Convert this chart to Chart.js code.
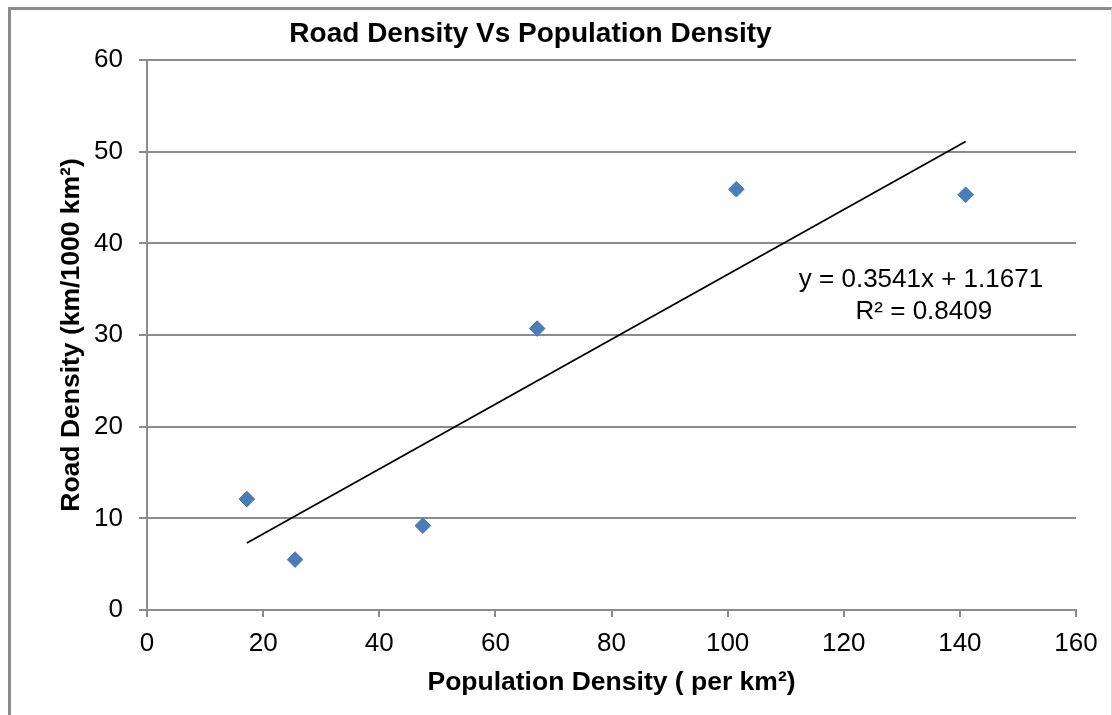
<!DOCTYPE html>
<html>
<head>
<meta charset="utf-8">
<title>Road Density Vs Population Density</title>
<script src="https://cdn.jsdelivr.net/npm/chart.js@4.4.1/dist/chart.umd.min.js"></script>
<style>
    body { margin: 0; background: #fff; }
    #wrap { position: relative; width: 1112px; height: 715px; overflow: hidden; background: #fff; }
    #frame {
        position: absolute; left: 8px; top: 7px; width: 1100px; height: 720px;
        border-left: 3px solid #8c8c8c; border-top: 3px solid #8c8c8c; border-right: 1px solid #dcdcdc;
        pointer-events: none;
    }
    canvas { position: absolute; left: 0; top: 0; }
</style>
</head>
<body>
<div id="wrap">
    <canvas id="chart" width="1112" height="715"></canvas>
    <div id="frame"></div>
</div>
<script>
// Data
const popDensity = [17.2, 25.5, 47.5, 67.2, 101.5, 141.0];
const roadDensity = [12.1, 5.5, 9.2, 30.7, 45.9, 45.3];

// Linear trendline ends as drawn
const trendX = [17.2, 141.0];
const trendY = [7.3, 51.1];
const equationText = ['y = 0.3541x + 1.1671', 'R² = 0.8409'];

const xTicks = [0, 20, 40, 60, 80, 100, 120, 140, 160];
const yTicks = [0, 10, 20, 30, 40, 50, 60];

const FONT = '"Liberation Sans", Arial, Helvetica, sans-serif';
const gridColor = '#8c8c8c';

Chart.defaults.font.family = FONT;
Chart.defaults.color = '#000';

// Draw the trendline equation next to the line
const trendLabel = {
    id: 'trendLabel',
    afterDatasetsDraw(chart) {
        const { ctx, scales: { x, y } } = chart;
        ctx.save();
        ctx.font = '26px ' + FONT;
        ctx.fillStyle = '#000';
        ctx.textAlign = 'center';
        ctx.textBaseline = 'middle';
        ctx.fillText(equationText[0], x.getPixelForValue(133.3), y.getPixelForValue(36.0));
        ctx.fillText(equationText[1], x.getPixelForValue(133.8), y.getPixelForValue(32.5));
        ctx.restore();
    }
};

new Chart(document.getElementById('chart'), {
    type: 'scatter',
    data: {
        datasets: [{
            label: 'Road Density',
            data: popDensity.map((v, i) => ({ x: v, y: roadDensity[i] })),
            pointStyle: 'rectRot',
            pointRadius: 7.8,
            backgroundColor: '#4a7ebb',
            borderColor: '#4577b2',
            borderWidth: 1,
            order: 1
        }, {
            label: 'Linear',
            data: trendX.map((v, i) => ({ x: v, y: trendY[i] })),
            showLine: true,
            pointRadius: 0,
            borderColor: '#000',
            borderWidth: 1.8,
            order: 2
        }]
    },
    options: {
        responsive: false,
        animation: false,
        // the title sits a little left of centre, so the box starts left of the canvas
        layout: { padding: { left: -15, right: 36, top: 0, bottom: 0 } },
        plugins: {
            legend: { display: false },
            tooltip: { enabled: false },
            title: {
                display: true,
                text: 'Road Density Vs Population Density',
                color: '#000',
                font: { size: 28, weight: 'bold' },
                padding: { top: 17.2, bottom: 9.2 }
            }
        },
        scales: {
            x: {
                type: 'linear',
                min: 0,
                max: 160,
                afterBuildTicks: axis => { axis.ticks = xTicks.map(v => ({ value: v })); },
                afterFit: axis => { axis.height = 105; },
                grid: { drawOnChartArea: false, color: gridColor, lineWidth: 2, tickLength: 7 },
                border: { color: gridColor, width: 2 },
                ticks: { font: { size: 26 }, color: '#000', padding: 11, maxRotation: 0 },
                title: {
                    display: true,
                    text: 'Population Density ( per km²)',
                    color: '#000',
                    font: { size: 26.5, weight: 'bold' },
                    padding: { top: 0, bottom: 16.1 }
                }
            },
            y: {
                type: 'linear',
                min: 0,
                max: 60,
                afterBuildTicks: axis => { axis.ticks = yTicks.map(v => ({ value: v })); },
                afterFit: axis => { axis.width = 162; },
                grid: { color: gridColor, lineWidth: 2, tickLength: 8 },
                border: { color: gridColor, width: 2 },
                ticks: { font: { size: 26 }, color: '#000', padding: 16 },
                title: {
                    display: true,
                    text: 'Road Density (km/1000 km²)',
                    color: '#000',
                    font: { size: 26.5, weight: 'bold' },
                    padding: { top: 71.1, bottom: 0 }
                }
            }
        }
    },
    plugins: [trendLabel]
});
</script>
</body>
</html>
